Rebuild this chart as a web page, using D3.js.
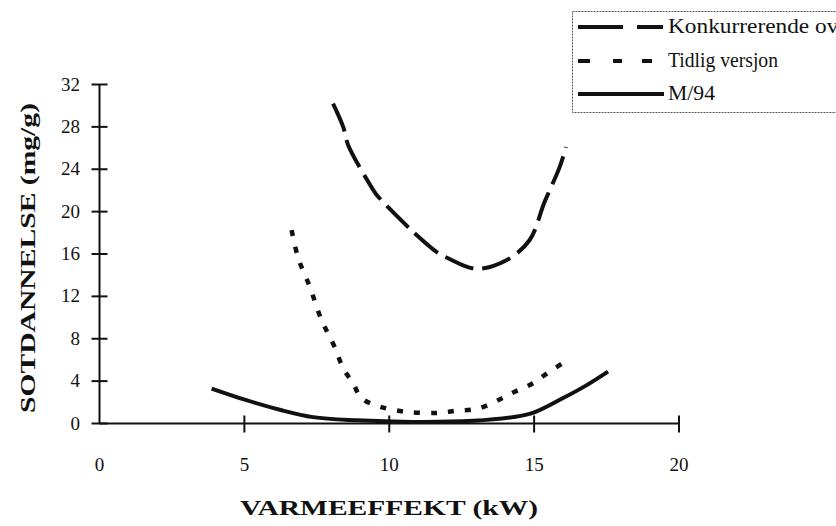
<!DOCTYPE html>
<html>
<head>
<meta charset="utf-8">
<script src="https://cdn.jsdelivr.net/npm/d3@7"></script>
<style>
  body { margin: 0; background: #fff; }
  svg text { font-family: "Liberation Serif", "Times New Roman", serif; fill: #111; }
</style>
</head>
<body>
<div id="chart"></div>
<script>
// series (x in kW, y in mg/g)
var konkX = [8.06, 8.41, 8.58, 9.39, 9.56, 10.59, 10.94, 11.63, 12.03, 13.0, 14.04, 14.84, 15.36, 15.88, 16.1];
var konkY = [30.2, 28.0, 26.3, 22.3, 21.6, 18.7, 17.8, 16.2, 15.6, 14.6, 15.4, 17.3, 20.9, 24.2, 26.1];

var tidligX = [6.63, 6.86, 7.26, 7.6, 7.83, 8.12, 8.41, 8.75, 9.04, 9.67, 10.59, 11.63, 12.32, 13.06, 13.75, 14.33, 14.96, 15.53, 16.05];
var tidligY = [18.25, 15.6, 12.9, 10.2, 8.8, 7.2, 5.2, 3.8, 2.4, 1.6, 1.1, 1.0, 1.2, 1.4, 2.2, 3.0, 3.8, 4.9, 5.8];

var m94X = [3.87, 5.07, 6.22, 7.37, 8.87, 10.8, 12.9, 14.27, 14.96, 16.0, 16.8, 17.55];
var m94Y = [3.3, 2.2, 1.3, 0.6, 0.3, 0.15, 0.25, 0.6, 1.0, 2.4, 3.6, 4.9];

var xTicks = [0, 5, 10, 15, 20];
var yTicks = [0, 4, 8, 12, 16, 20, 24, 28, 32];
var legendLabels = ["Konkurrerende ovn", "Tidlig versjon", "M/94"];

var W = 836, H = 526;
var serif = "'Liberation Serif', 'Times New Roman', serif";
var svg = d3.select("#chart").append("svg")
  .attr("width", W)
  .attr("height", H)
  .style("font-family", serif);

// scales
var x = d3.scaleLinear().domain([0, 20]).range([99.5, 679]);
var y = d3.scaleLinear().domain([0, 32]).range([423.5, 84.5]);

var ink = "#111";

// axes (ticks cross the axis line)
var yAxis = svg.append("g");
yAxis.append("line")
  .attr("x1", x(0)).attr("x2", x(0))
  .attr("y1", y(32)).attr("y2", y(0))
  .attr("stroke", ink).attr("stroke-width", 2);
yAxis.selectAll(".yt").data(yTicks).enter().append("line")
  .attr("x1", x(0) - 8).attr("x2", x(0) + 8)
  .attr("y1", function(d) { return y(d); })
  .attr("y2", function(d) { return y(d); })
  .attr("stroke", ink).attr("stroke-width", 2);
yAxis.selectAll(".yl").data(yTicks).enter().append("text")
  .attr("x", 80)
  .attr("y", function(d) { return y(d) + 6; })
  .attr("text-anchor", "end")
  .style("font-family", serif)
  .style("font-size", "19px")
  .text(function(d) { return d; });

var xAxis = svg.append("g");
xAxis.append("line")
  .attr("x1", x(0)).attr("x2", x(20))
  .attr("y1", y(0)).attr("y2", y(0))
  .attr("stroke", ink).attr("stroke-width", 2);
xAxis.selectAll(".xt").data(xTicks.slice(1)).enter().append("line")
  .attr("x1", function(d) { return x(d); })
  .attr("x2", function(d) { return x(d); })
  .attr("y1", y(0) - 8).attr("y2", y(0) + 9)
  .attr("stroke", ink).attr("stroke-width", 2);
xAxis.selectAll(".xl").data(xTicks).enter().append("text")
  .attr("x", function(d) { return x(d); })
  .attr("y", 471)
  .attr("text-anchor", "middle")
  .style("font-family", serif)
  .style("font-size", "19px")
  .text(function(d) { return d; });

// axis titles
svg.append("text")
  .attr("x", 389).attr("y", 515)
  .attr("text-anchor", "middle")
  .attr("textLength", 298)
  .attr("lengthAdjust", "spacingAndGlyphs")
  .style("font-family", serif)
  .style("font-size", "22px").style("font-weight", "bold")
  .text("VARMEEFFEKT (kW)");

svg.append("text")
  .attr("transform", "translate(35,258) rotate(-90)")
  .attr("text-anchor", "middle")
  .attr("textLength", 310)
  .attr("lengthAdjust", "spacingAndGlyphs")
  .style("font-family", serif)
  .style("font-size", "22px").style("font-weight", "bold")
  .text("SOTDANNELSE (mg/g)");

// curves
var line = d3.line()
  .x(function(d) { return x(d[0]); })
  .y(function(d) { return y(d[1]); })
  .curve(d3.curveCatmullRom);

var series = [
  { xs: konkX, ys: konkY, dash: "30,9", w: 4 },
  { xs: tidligX, ys: tidligY, dash: "6,11", w: 4.5 },
  { xs: m94X, ys: m94Y, dash: null, w: 4 }
];

series.forEach(function(s) {
  var pts = d3.zip(s.xs, s.ys);
  svg.append("path")
    .datum(pts)
    .attr("d", line)
    .attr("fill", "none")
    .attr("stroke", ink)
    .attr("stroke-width", s.w)
    .attr("stroke-dasharray", s.dash);
});

// legend
var lg = svg.append("g");
lg.append("rect")
  .attr("x", 572.5).attr("y", 11.5)
  .attr("width", 280).attr("height", 101)
  .attr("fill", "none")
  .attr("stroke", "#555")
  .attr("stroke-width", 1)
  .attr("stroke-dasharray", "2,1");

var rowY = [27, 61, 94];
var sampleDash = ["45,14,26,40", "12,23,9,20,10", null];
var labelLen = [182, 110, 47];
legendLabels.forEach(function(name, i) {
  lg.append("line")
    .attr("x1", 578).attr("x2", 664)
    .attr("y1", rowY[i]).attr("y2", rowY[i])
    .attr("stroke", ink)
    .attr("stroke-width", 4)
    .attr("stroke-dasharray", sampleDash[i]);
  lg.append("text")
    .attr("x", 668)
    .attr("y", rowY[i] + 6)
    .attr("textLength", labelLen[i])
    .attr("lengthAdjust", "spacingAndGlyphs")
    .style("font-family", serif)
    .style("font-size", "20px")
    .text(name);
});
</script>
</body>
</html>
